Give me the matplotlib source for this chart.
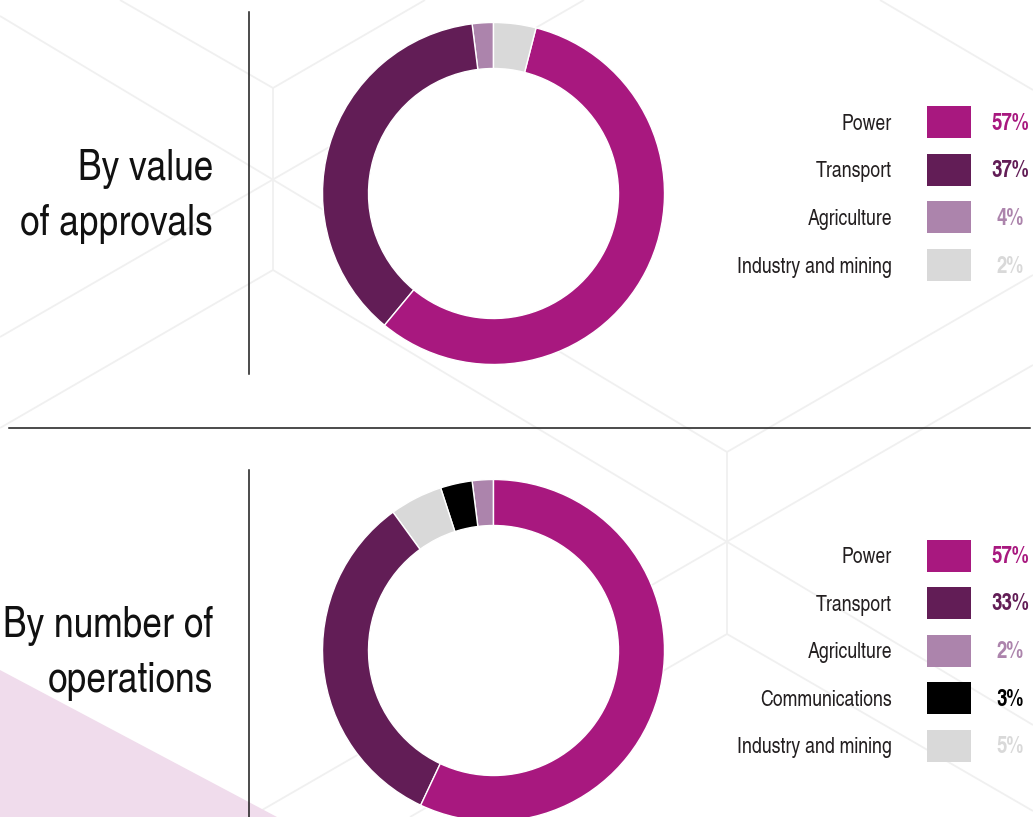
import matplotlib
matplotlib.use("Agg")
import matplotlib.pyplot as plt
from matplotlib.patches import Rectangle, Polygon, Circle

# ---------------- data ----------------
top_title = ["By value", "of approvals"]
top_categories = ["Power", "Transport", "Agriculture", "Industry and mining"]
top_shares = [57, 37, 2, 4]                      # slice sizes as drawn
top_pct_labels = ["57%", "37%", "4%", "2%"]      # legend texts as printed
top_draw_order = ["Agriculture", "Transport", "Power", "Industry and mining"]

bottom_title = ["By number of", "operations"]
bottom_categories = ["Power", "Transport", "Agriculture", "Communications",
                     "Industry and mining"]
bottom_shares = [57, 33, 2, 3, 5]
bottom_pct_labels = ["57%", "33%", "2%", "3%", "5%"]
bottom_draw_order = ["Agriculture", "Communications", "Industry and mining",
                     "Transport", "Power"]

colors = {
    "Power": "#A8187F",
    "Transport": "#621D56",
    "Agriculture": "#AC84AC",
    "Communications": "#000000",
    "Industry and mining": "#D9D9D9",
}

# ---------------- layout ----------------
W, H = 1033, 817
FONT = ["TeX Gyre Heros Cn", "Roboto Condensed", "DejaVu Sans"]
plt.rcParams["font.family"] = FONT


def Y(y):
    return H - y


fig = plt.figure(figsize=(W / 100, H / 100), dpi=100)
ax = fig.add_axes([0, 0, 1, 1])

# decorative background lattice (faint)
hex_segments = [
    ((0, 16), (727, 452)),
    ((273, 88), (120, 0)),
    ((273, 88), (425, 0)),
    ((273, 88), (273, 270)),
    ((0, 337), (584, 0)),
    ((273, 270), (0, 428)),
    ((273, 270), (1033, 725)),
    ((727, 452), (727, 634)),
    ((727, 452), (1033, 275)),
    ((1033, 365), (250, 817)),
    ((727, 634), (1033, 811)),
    ((727, 634), (410, 817)),
    ((880, 0), (1033, 90)),
]
for (x0, y0), (x1, y1) in hex_segments:
    ax.plot([x0, x1], [Y(y0), Y(y1)], color="#F0F0F0", lw=1.3, zorder=0.3,
            solid_capstyle="butt")

ax.add_patch(Polygon([(0, Y(670)), (277, Y(817)), (0, Y(817))],
                     closed=True, facecolor="#F0DCEC", edgecolor="none",
                     zorder=0.4))

# rules
ax.plot([9, 1030], [Y(428), Y(428)], color="#1A1A1A", lw=1.1, zorder=2)
ax.plot([249, 249], [Y(12), Y(374)], color="#1A1A1A", lw=1.1, zorder=2)
ax.plot([249, 249], [Y(470), Y(817)], color="#1A1A1A", lw=1.1, zorder=2)

R_OUT, R_IN = 171, 125


def donut(cx, cy, cats, shares, order):
    share_of = dict(zip(cats, shares))
    vals = [share_of[c] for c in order]
    cols = [colors[c] for c in order]
    ax.add_patch(Circle((cx, Y(cy)), R_IN + 1, facecolor="white",
                        edgecolor="none", zorder=0.9))
    wedges, _ = ax.pie(vals, colors=cols, startangle=90, counterclock=True,
                       radius=R_OUT, center=(cx, Y(cy)), frame=True,
                       wedgeprops=dict(width=R_OUT - R_IN, edgecolor="white",
                                       linewidth=1.0))
    for w in wedges:
        w.set_zorder(1)


def legend(cats, pct, first_center, step):
    for i, (c, p) in enumerate(zip(cats, pct)):
        yc = first_center + i * step
        ax.text(892, Y(yc + 7.5), c, ha="right", va="baseline",
                fontsize=15.5, color="#231F20", zorder=3)
        ax.add_patch(Rectangle((927, Y(yc + 16)), 44, 32,
                               facecolor=colors[c], edgecolor="none",
                               zorder=3))
        ax.text(1010, Y(yc + 7.5), p, ha="center", va="baseline",
                fontsize=16.5, fontweight="bold", color=colors[c], zorder=3)


def title(lines, baseline1, gap):
    for i, t in enumerate(lines):
        ax.text(213, Y(baseline1 + i * gap), t, ha="right", va="baseline",
                fontsize=31, color="#111111", zorder=3)


donut(493.5, 193.5, top_categories, top_shares, top_draw_order)
donut(493.5, 650.5, bottom_categories, bottom_shares, bottom_draw_order)

legend(top_categories, top_pct_labels, 122, 47.7)
legend(bottom_categories, bottom_pct_labels, 555.5, 47.5)

title(top_title, 180, 55)
title(bottom_title, 637, 55)

ax.set_xlim(0, W)
ax.set_ylim(0, H)
ax.set_aspect("auto")
ax.axis("off")

fig.savefig("out.png", dpi=100, facecolor="white")
